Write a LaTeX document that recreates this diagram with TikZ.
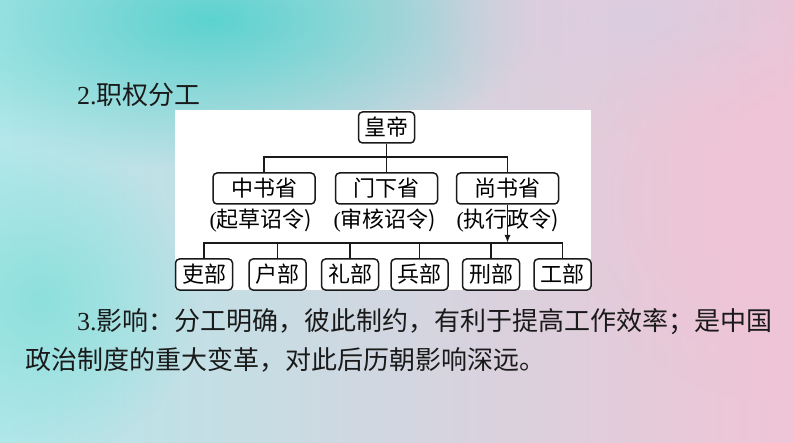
\documentclass[tikz,border=0pt]{standalone}
\usepackage{fontspec}
\setmainfont{Liberation Serif}
\newfontfamily\cjk{Noto Sans CJK SC}
\usetikzlibrary{arrows.meta,positioning,fadings}
\definecolor{BgTeal}{HTML}{5CD3CF}
\definecolor{BgAqua}{HTML}{B4E8EA}
\definecolor{BgMist}{HTML}{E6E9EF}
\definecolor{BgPink}{HTML}{F0C4D6}
\definecolor{BgLilac}{HTML}{DCCDE0}
\definecolor{InkBlack}{HTML}{1A1A1A}
\tikzfading[name=softglow,inner color=transparent!0,outer color=transparent!100]
\tikzset{
  orgbox/.style={draw=InkBlack,fill=white,rounded corners=4pt,line width=1.5pt,
    minimum height=31pt,inner sep=0pt,font=\fontsize{22}{23}\selectfont\cjk},
  topbox/.style={orgbox,minimum width=56pt},
  shengbox/.style={orgbox,minimum width=102pt},
  bubox/.style={orgbox,minimum width=57pt},
  duty/.style={inner sep=0pt,font=\fontsize{22}{23}\selectfont},
  link/.style={InkBlack,line width=1.6pt},
  linkarrow/.style={link,-{Latex[length=8pt,width=6pt]}},
  bodytext/.style={anchor=west,inner sep=0pt,text=InkBlack,font=\fontsize{26}{30}\selectfont}
}

\begin{document}
\begin{tikzpicture}[x=1pt,y=-1pt]
  \useasboundingbox (0,0) rectangle (794,443);
  % background
  \shade[left color=BgAqua,middle color=BgMist,right color=BgPink] (0,0) rectangle (794,443);
  \fill[BgTeal,path fading=softglow] (210,20) ellipse (330pt and 150pt);
  \fill[BgTeal!70,path fading=softglow] (40,300) ellipse (160pt and 160pt);
  \fill[BgLilac,path fading=softglow] (640,20) ellipse (220pt and 110pt);
  \fill[BgPink,path fading=softglow] (770,200) ellipse (200pt and 200pt);
  \fill[white] (175,110) rectangle (591,290);

  \node[bodytext] (title) at (77,95) {2.{\cjk 职权分工}};

  % chart
  \node[topbox] (huangdi) at (386.5,127.5) {皇帝};
  \node[shengbox] (zhongshu) at (264,188.5) {中书省};
  \node[shengbox] (menxia) at (386.5,188.5) {门下省};
  \node[shengbox] (shangshu) at (507.5,188.5) {尚书省};
  \node[duty] (zhongshuduty) at (261,221) {(\cjk 起草诏令)};
  \node[duty] (menxiaduty) at (385,221) {(\cjk 审核诏令)};
  \node[duty] (shangshuduty) at (508,221) {(\cjk 执行政令)};
  \foreach \x/\name/\txt in {204/personnel/吏部,277.5/revenue/户部,350/rites/礼部,
      419.5/war/兵部,491/justice/刑部,562.5/works/工部}{
    \node[bubox] (\name) at (\x,274.5) {\txt};
  }

  \coordinate (topbus) at (386.5,157);
  \coordinate (lowbus) at (507.5,243);
  \draw[link] (huangdi) -- (menxia);
  \draw[link] (zhongshu.north) |- (topbus) -| (shangshu.north);
  \draw[linkarrow] (shangshu.south) -- (lowbus);
  \draw[link] (personnel.north) |- (lowbus) -| (works.north);
  \foreach \n in {revenue,rites,war,justice}
    \draw[link] (\n.north) -- (\n.north |- lowbus);

  \node[bodytext] (effect) at (77,322)
    {3.{\cjk 影响：分工明确，彼此制约，有利于提高工作效率；是中国}};
  \node[bodytext] (effectcont) at (25,360)
    {{\cjk 政治制度的重大变革，对此后历朝影响深远。}};
\end{tikzpicture}
\end{document}
